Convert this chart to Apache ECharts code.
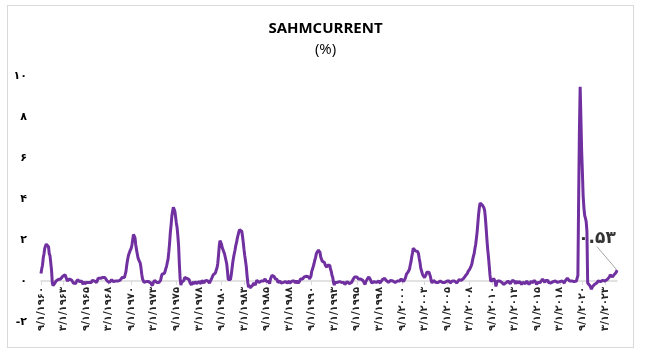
<!DOCTYPE html>
<html>
<head>
<meta charset="utf-8">
<script src="https://cdn.jsdelivr.net/npm/echarts@6/dist/echarts.min.js"></script>
<style>
  html, body { margin: 0; padding: 0; background: #fff; }
  #chart { width: 651px; height: 354px; }
  .frame { position: absolute; left: 7px; top: 5px; width: 625px; height: 341px; border: 1px solid #d9d9d9; pointer-events: none; }
</style>
</head>
<body>
<div id="chart"></div>
<div class="frame"></div>
<script>
// first month of the series (Sep 1960), monthly up to Jul 2024
const startYear = 1960;
const startMonth = 9;

// SAHMCURRENT values (%), one row per year
const sahm = [
  0.37, 0.60, 0.77, 1.13, // 1960 Sep-Dec
  1.33, 1.60, 1.67, 1.80, 1.77, 1.77, 1.67, 1.33, 1.23, 0.87, 0.53, -0.07, // 1961
  -0.23, -0.20, -0.13, -0.07, 0.00, -0.03, -0.07, 0.07, 0.10, 0.10, 0.10, 0.07, // 1962
  0.17, 0.23, 0.30, 0.30, 0.30, 0.27, 0.23, 0.00, -0.03, -0.03, 0.10, 0.10, // 1963
  0.13, 0.03, 0.00, -0.10, -0.10, -0.07, -0.13, -0.03, -0.03, 0.07, 0.00, -0.03, // 1964
  -0.07, 0.03, 0.00, -0.03, -0.17, -0.03, -0.13, -0.07, -0.10, -0.07, -0.10, -0.10, // 1965
  -0.07, -0.10, -0.07, -0.07, 0.03, 0.03, 0.03, 0.00, -0.03, -0.03, -0.07, 0.03, // 1966
  0.13, 0.17, 0.17, 0.13, 0.13, 0.17, 0.17, 0.17, 0.13, 0.17, 0.23, 0.20, // 1967
  0.00, -0.03, -0.07, -0.07, -0.10, -0.10, 0.07, 0.07, -0.03, -0.10, -0.03, 0.00, // 1968
  0.00, 0.00, 0.00, 0.00, 0.00, 0.03, 0.07, 0.10, 0.17, 0.23, 0.23, 0.17, // 1969
  0.23, 0.47, 0.77, 1.00, 1.20, 1.33, 1.43, 1.50, 1.60, 1.77, 2.03, 2.27, // 1970
  2.33, 2.10, 1.77, 1.53, 1.33, 1.13, 1.03, 1.00, 0.87, 0.63, 0.33, 0.10, // 1971
  0.03, -0.07, -0.07, -0.03, -0.03, -0.03, -0.03, -0.03, -0.07, 0.00, -0.10, -0.10, // 1972
  -0.23, -0.10, -0.10, 0.03, 0.00, 0.00, -0.07, -0.03, -0.03, -0.07, 0.00, 0.03, // 1973
  0.20, 0.33, 0.40, 0.40, 0.37, 0.47, 0.60, 0.73, 0.90, 1.07, 1.43, 1.83, // 1974
  2.37, 2.73, 3.17, 3.40, 3.60, 3.57, 3.40, 3.13, 2.83, 2.60, 2.20, 1.70, // 1975
  0.83, 0.13, -0.20, -0.07, -0.10, 0.00, 0.03, 0.17, 0.17, 0.13, 0.13, 0.20, // 1976
  0.13, 0.07, -0.07, -0.10, -0.20, -0.07, -0.10, -0.10, -0.13, -0.03, -0.07, -0.13, // 1977
  -0.13, -0.17, -0.03, -0.10, -0.10, -0.13, 0.03, 0.00, 0.03, -0.10, 0.00, 0.00, // 1978
  0.03, 0.03, -0.03, -0.03, -0.10, -0.03, -0.03, 0.13, 0.20, 0.30, 0.27, 0.30, // 1979
  0.40, 0.53, 0.63, 0.83, 1.23, 1.67, 1.97, 1.90, 1.80, 1.63, 1.57, 1.43, // 1980
  1.33, 1.17, 1.13, 0.83, 0.47, 0.07, 0.07, 0.03, 0.07, 0.30, 0.60, 0.90, // 1981
  1.13, 1.33, 1.50, 1.73, 1.87, 2.07, 2.23, 2.37, 2.50, 2.47, 2.50, 2.43, // 1982
  2.17, 1.87, 1.53, 1.23, 0.97, 0.70, 0.27, -0.07, -0.30, -0.20, -0.33, -0.30, // 1983
  -0.27, -0.23, -0.17, -0.10, -0.13, -0.20, -0.07, 0.03, 0.07, 0.03, -0.07, 0.00, // 1984
  -0.03, 0.00, -0.03, 0.00, 0.00, 0.07, 0.10, 0.07, -0.03, -0.10, -0.03, -0.03, // 1985
  -0.13, 0.07, 0.13, 0.27, 0.27, 0.27, 0.23, 0.13, 0.07, 0.07, 0.07, -0.07, // 1986
  -0.13, -0.10, 0.00, -0.10, -0.10, -0.13, -0.07, -0.10, -0.10, -0.03, -0.07, -0.07, // 1987
  -0.10, -0.03, 0.00, -0.10, -0.03, -0.10, 0.00, 0.00, 0.00, 0.00, -0.10, -0.03, // 1988
  0.00, -0.03, -0.10, -0.07, 0.00, 0.10, 0.10, 0.10, 0.10, 0.13, 0.20, 0.23, // 1989
  0.27, 0.23, 0.17, 0.17, 0.20, 0.10, 0.13, 0.23, 0.47, 0.57, 0.70, 0.83, // 1990
  1.00, 1.13, 1.30, 1.40, 1.47, 1.50, 1.50, 1.40, 1.17, 1.10, 0.97, 0.97, // 1991
  0.90, 0.90, 0.77, 0.70, 0.67, 0.77, 0.83, 0.83, 0.77, 0.57, 0.47, 0.27, // 1992
  0.17, -0.07, -0.20, -0.07, 0.00, 0.00, -0.07, -0.10, -0.10, -0.03, -0.07, -0.07, // 1993
  -0.07, 0.00, 0.00, -0.07, -0.17, -0.13, -0.10, -0.03, -0.07, -0.10, -0.13, -0.13, // 1994
  -0.07, -0.07, -0.03, 0.07, 0.13, 0.20, 0.17, 0.20, 0.20, 0.13, 0.10, 0.10, // 1995
  0.13, 0.10, 0.07, 0.07, 0.03, -0.03, -0.03, -0.17, -0.03, -0.10, 0.10, 0.17, // 1996
  0.20, 0.13, 0.07, 0.00, -0.10, -0.07, -0.07, -0.03, -0.03, -0.07, -0.07, -0.07, // 1997
  -0.03, 0.00, 0.00, -0.10, -0.07, -0.07, 0.07, 0.10, 0.13, 0.13, 0.10, 0.03, // 1998
  -0.03, 0.00, -0.07, 0.00, -0.07, 0.03, 0.03, 0.03, 0.00, -0.07, -0.03, -0.07, // 1999
  -0.03, 0.00, 0.00, -0.07, -0.03, 0.00, 0.07, 0.10, 0.07, 0.03, -0.03, 0.00, // 2000
  0.10, 0.20, 0.33, 0.40, 0.43, 0.50, 0.57, 0.77, 0.93, 1.17, 1.37, 1.60, // 2001
  1.63, 1.60, 1.47, 1.47, 1.47, 1.43, 1.33, 1.10, 0.90, 0.63, 0.50, 0.37, // 2002
  0.27, 0.20, 0.17, 0.23, 0.30, 0.43, 0.50, 0.50, 0.43, 0.37, 0.20, 0.00, // 2003
  -0.10, -0.07, 0.03, 0.00, 0.00, -0.07, -0.03, -0.07, -0.07, 0.00, 0.00, 0.00, // 2004
  -0.07, 0.00, -0.07, -0.03, -0.10, -0.07, -0.07, -0.07, 0.00, 0.00, 0.03, 0.00, // 2005
  -0.10, -0.07, -0.07, 0.00, -0.07, -0.03, 0.00, 0.03, 0.00, -0.10, -0.07, -0.03, // 2006
  0.07, 0.07, 0.07, 0.03, 0.00, 0.07, 0.13, 0.20, 0.23, 0.23, 0.27, 0.37, // 2007
  0.47, 0.53, 0.57, 0.57, 0.73, 0.83, 1.03, 1.20, 1.33, 1.57, 1.77, 2.07, // 2008
  2.40, 2.83, 3.27, 3.60, 3.80, 3.87, 3.83, 3.70, 3.63, 3.57, 3.43, 3.07, // 2009
  2.57, 2.03, 1.57, 1.20, 0.77, 0.33, 0.00, -0.03, 0.03, 0.03, 0.13, 0.07, // 2010
  -0.03, -0.27, -0.10, 0.00, 0.00, 0.03, 0.00, 0.00, -0.03, -0.07, -0.13, -0.17, // 2011
  -0.17, -0.10, -0.10, -0.03, -0.03, 0.00, 0.00, -0.03, -0.13, -0.13, -0.13, 0.03, // 2012
  0.10, 0.10, -0.03, -0.13, -0.07, 0.00, -0.10, -0.10, -0.10, -0.03, -0.10, -0.17, // 2013
  -0.20, -0.07, 0.00, -0.13, -0.13, -0.20, 0.00, -0.07, -0.07, -0.17, -0.10, -0.10, // 2014
  0.00, -0.10, -0.07, -0.10, 0.03, 0.00, -0.07, -0.17, -0.10, -0.07, 0.00, 0.00, // 2015
  -0.07, -0.07, 0.00, 0.10, 0.07, 0.03, -0.07, 0.03, 0.07, 0.10, 0.03, -0.07, // 2016
  -0.07, -0.03, -0.10, -0.10, -0.07, -0.03, -0.03, 0.00, 0.00, -0.03, -0.07, -0.07, // 2017
  -0.07, -0.03, -0.03, 0.00, -0.10, 0.00, -0.07, 0.00, -0.10, 0.00, 0.00, 0.07, // 2018
  0.13, 0.13, 0.10, 0.00, -0.07, -0.07, 0.00, 0.00, -0.03, -0.03, 0.00, 0.03, // 2019
  0.00, -0.03, 0.27, 4.03, 7.27, 9.47, 7.93, 6.33, 5.27, 4.13, 3.57, 3.20, // 2020
  3.07, 2.90, 2.43, -0.10, -0.13, -0.07, -0.23, -0.23, -0.40, -0.30, -0.30, -0.27, // 2021
  -0.17, -0.13, -0.10, -0.10, -0.07, 0.00, -0.07, 0.00, -0.03, 0.03, 0.03, 0.03, // 2022
  -0.03, 0.00, 0.00, 0.00, 0.03, 0.07, 0.10, 0.13, 0.20, 0.30, 0.27, 0.23, // 2023
  0.20, 0.27, 0.30, 0.37, 0.37, 0.43, 0.53 // 2024 Jan-Jul
];

// y axis ticks
const yTicks = [-2, 0, 2, 4, 6, 8, 10];

// latin -> persian digits
const faDigits = ["۰", "۱", "۲", "۳", "۴", "۵", "۶", "۷", "۸", "۹"];
function toFa(s) {
  return String(s).replace(/[0-9]/g, (d) => faDigits[+d]);
}

// month labels m/1/yyyy
const months = sahm.map((v, i) => {
  const n = startMonth - 1 + i;
  const y = startYear + Math.floor(n / 12);
  const m = (n % 12) + 1;
  return m + "/1/" + y;
});

const last = sahm.length - 1;

const chart = echarts.init(document.getElementById("chart"));
const option = {
  animation: false,
  title: {
    text: "SAHMCURRENT",
    subtext: "(%)",
    left: "center",
    top: 16,
    itemGap: 6,
    textStyle: { fontFamily: "Open Sans", fontWeight: "bold", fontSize: 15, color: "#000" },
    subtextStyle: { fontFamily: "Open Sans", fontSize: 15, color: "#000" },
  },
  grid: { left: 41, right: 34, top: 76, bottom: 32, outerBoundsMode: "none" },
  xAxis: {
    type: "category",
    boundaryGap: false,
    data: months,
    // axis sits at value 0 (2 units above the bottom of a 12 unit range)
    offset: -41,
    axisLine: { onZero: false, lineStyle: { color: "#d9d9d9", width: 1.5 } },
    axisTick: { show: true, interval: 29, length: 4, lineStyle: { color: "#d9d9d9" } },
    axisLabel: {
      interval: 29,
      rotate: 90,
      margin: 6,
      fontFamily: "DejaVu Sans",
      fontWeight: "bold",
      fontSize: 10,
      color: "#262626",
      formatter: (s) => toFa(s),
    },
  },
  yAxis: {
    type: "value",
    min: yTicks[0],
    max: yTicks[yTicks.length - 1],
    interval: 2,
    splitLine: { show: false },
    axisLine: { show: false },
    axisLabel: {
      margin: 14,
      fontFamily: "DejaVu Sans",
      fontWeight: "bold",
      fontSize: 11,
      color: "#000",
      formatter: (v) => toFa(v),
    },
  },
  series: [
    {
      type: "line",
      data: sahm,
      symbol: "none",
      lineStyle: { color: "#7030a0", width: 3 },
    },
    {
      // label for the latest value
      type: "scatter",
      data: [[last, sahm[last]]],
      symbolSize: 1,
      itemStyle: { color: "rgba(0,0,0,0)" },
      label: {
        show: true,
        position: "top",
        formatter: (p) => toFa(p.value[1].toFixed(2)),
        fontFamily: "DejaVu Sans",
        fontWeight: "bold",
        fontSize: 17,
        color: "#000",
      },
      labelLine: { show: true, lineStyle: { color: "#a6a6a6", width: 1 } },
      labelLayout: { dx: -20, dy: -18 },
    },
  ],
};
chart.setOption(option);
</script>
</body>
</html>
